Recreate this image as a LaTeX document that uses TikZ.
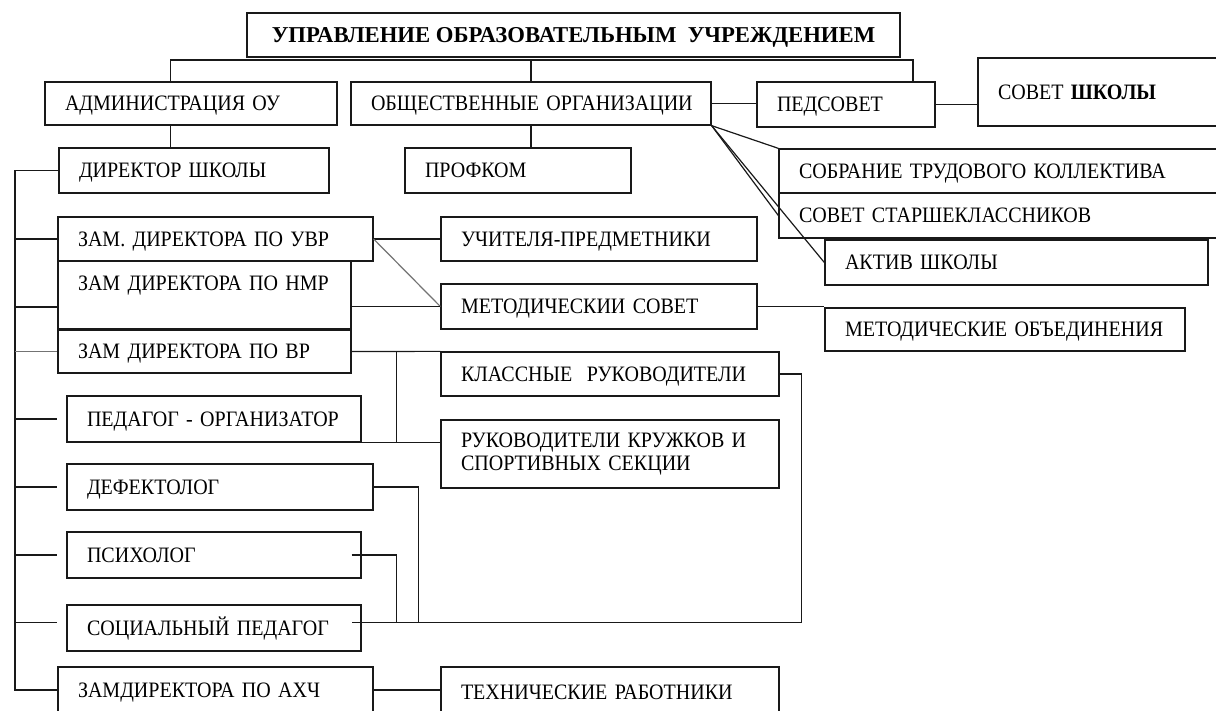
\documentclass[tikz,border=0pt]{standalone}
\usepackage{fontspec}
\setmainfont{Liberation Serif}
\newfontfamily\cfont[FakeStretch=0.91]{Liberation Serif}
\usetikzlibrary{calc}
\newcommand\mybox[7][]{%
  \pgfmathsetmacro\bw{#5-#3}\pgfmathsetmacro\bh{#6-#4}\pgfmathsetmacro\tw{#5-#3-40}%
  \node[bx, minimum width=\bw pt, minimum height=\bh pt, text width=\tw pt, #1] (#2) at ({(#3+#5)/2},{(#4+#6)/2}) {#7};}
\begin{document}
\begin{tikzpicture}[x=1pt,y=-1pt,
  bx/.style={draw=black!90, line width=1.3pt, inner xsep=0pt, inner ysep=0pt, align=left,
    font=\cfont\fontsize{22}{23}\selectfont},
  one/.style={text height=17pt, text depth=3pt},
  ln/.style={draw=black!90, line width=1.2pt},
  lg/.style={draw=black!55, line width=1.2pt}]
\useasboundingbox (0,0) rectangle (1216,710);
\fill[white] (0,0) rectangle (1216,710);

\node[bx, one, minimum width=653pt, minimum height=44pt, align=center, font=\fontsize{22.7}{25}\selectfont\bfseries] (top) at (573.5,35) {УПРАВЛЕНИЕ ОБРАЗОВАТЕЛЬНЫМ\ \ УЧРЕЖДЕНИЕМ};

\mybox[one]{adm}{45}{82}{337}{125}{АДМИНИСТРАЦИЯ ОУ}
\mybox[one]{obsh}{351}{82}{711}{125}{ОБЩЕСТВЕННЫЕ~ОРГАНИЗАЦИИ}
\mybox[one]{ped}{757}{82}{935}{127}{ПЕДСОВЕТ}
\mybox[one]{sovsh}{978}{58}{1240}{126}{СОВЕТ \textbf{ШКОЛЫ}}
\mybox[one]{dir}{59}{148}{329}{193}{ДИРЕКТОР ШКОЛЫ}
\mybox[one]{prof}{405}{148}{631}{193}{ПРОФКОМ}
\mybox[one]{sobr}{779}{149}{1240}{193}{СОБРАНИЕ ТРУДОВОГО КОЛЛЕКТИВА}
\mybox[one]{sst}{779}{193}{1240}{238}{СОВЕТ СТАРШЕКЛАССНИКОВ}
\mybox[one]{aktiv}{825}{240}{1208}{285}{АКТИВ ШКОЛЫ}
\mybox[one]{uvr}{58}{217}{373}{261}{ЗАМ. ДИРЕКТОРА ПО УВР}
\mybox[text height=17pt, text depth=26pt]{nmr}{58}{261}{351}{329}{ЗАМ ДИРЕКТОРА ПО НМР}
\mybox[one]{vr}{58}{330}{351}{373}{ЗАМ ДИРЕКТОРА ПО ВР}
\mybox[one]{uch}{441}{217}{757}{261}{УЧИТЕЛЯ-ПРЕДМЕТНИКИ}
\mybox[one]{msov}{441}{284}{757}{329}{МЕТОДИЧЕСКИИ СОВЕТ}
\mybox[one]{mob}{825}{308}{1185}{351}{МЕТОДИЧЕСКИЕ ОБЪЕДИНЕНИЯ}
\mybox[one]{kl}{441}{352}{779}{396}{КЛАССНЫЕ~ РУКОВОДИТЕЛИ}
\mybox[one]{pedorg}{67}{396}{361}{442}{ПЕДАГОГ - ОРГАНИЗАТОР}
\mybox{ruk}{441}{420}{779}{488}{РУКОВОДИТЕЛИ КРУЖКОВ И\\СПОРТИВНЫХ СЕКЦИИ}
\mybox[one]{def}{67}{464}{373}{510}{ДЕФЕКТОЛОГ}
\mybox[one]{psy}{67}{532}{361}{578}{ПСИХОЛОГ}
\mybox[one]{soc}{67}{605}{361}{651}{СОЦИАЛЬНЫЙ ПЕДАГОГ}
\mybox[one]{ahch}{58}{667}{373}{713}{ЗАМДИРЕКТОРА ПО АХЧ}
\mybox[one]{tech}{441}{667}{779}{718}{ТЕХНИЧЕСКИЕ РАБОТНИКИ}

% top bus
\coordinate (busL) at (170.5,60);
\coordinate (busR) at (913,60);
\draw[ln] (busL |- adm.north) -- (busL) -- (busR) -- (busR |- ped.north);
\draw[ln] (obsh.north) -- (obsh.north |- busL);
\draw[ln] (busL |- adm.south) -- (busL |- dir.north);
\draw[ln] (obsh.south) -- (obsh.south |- prof.north);
\draw[ln] (obsh.east) -- (obsh.east -| ped.west);
\draw[ln] (ped.east) -- (ped.east -| sovsh.west);
\draw[ln] (obsh.south east) -- (sobr.north west);
\draw[ln] (obsh.south east) -- (sst.west);
\draw[ln] (obsh.south east) -- (aktiv.west);

% left spine
\coordinate (sp) at (15,0);
\draw[ln] (dir.west) -- (dir.west -| sp) -- (sp |- ahch.west) -- (ahch.west);
\draw[ln] (uvr.west -| sp) -- (uvr.west);
\coordinate (nmrL) at (15,307);
\draw[ln] (nmrL) -- (nmrL -| nmr.west);
\draw[lg] (vr.west -| sp) -- (vr.west);
\draw[ln] (pedorg.west -| sp) -- (pedorg.west -| uvr.west);
\draw[ln] (def.west -| sp) -- (def.west -| uvr.west);
\draw[ln] (psy.west -| sp) -- (psy.west -| uvr.west);
\coordinate (socL) at (15,622.3);
\draw[ln] (socL) -- (socL -| uvr.west);

% deputies to subordinates
\draw[ln] (uvr.east) -- (uch.west);
\draw[lg] (uvr.east) -- (msov.west);
\draw[ln] (msov.west -| nmr.east) -- (msov.west);
\draw[ln] (vr.east) -- (kl.north west);
\coordinate (j1) at (396.7,351.5);
\draw[ln] (j1) -- (j1 |- pedorg.south);
\draw[ln] (pedorg.south east) -- (pedorg.south east -| ruk.west);
\draw[ln] (msov.east) -- (msov.east -| mob.west);

% right loop
\coordinate (rr) at (801.7,622.3);
\coordinate (socin) at (351.7,622.3);
\draw[ln] (kl.east) -| (rr) -- (socin);
\coordinate (dj) at (418.3,622.3);
\draw[ln] (def.east) -| (dj);
\coordinate (psyin) at (351.7,555);
\coordinate (pj) at (396.7,622.3);
\draw[ln] (psyin) -| (pj);

\draw[ln] (ahch.east) -- (ahch.east -| tech.west);
\end{tikzpicture}
\end{document}
